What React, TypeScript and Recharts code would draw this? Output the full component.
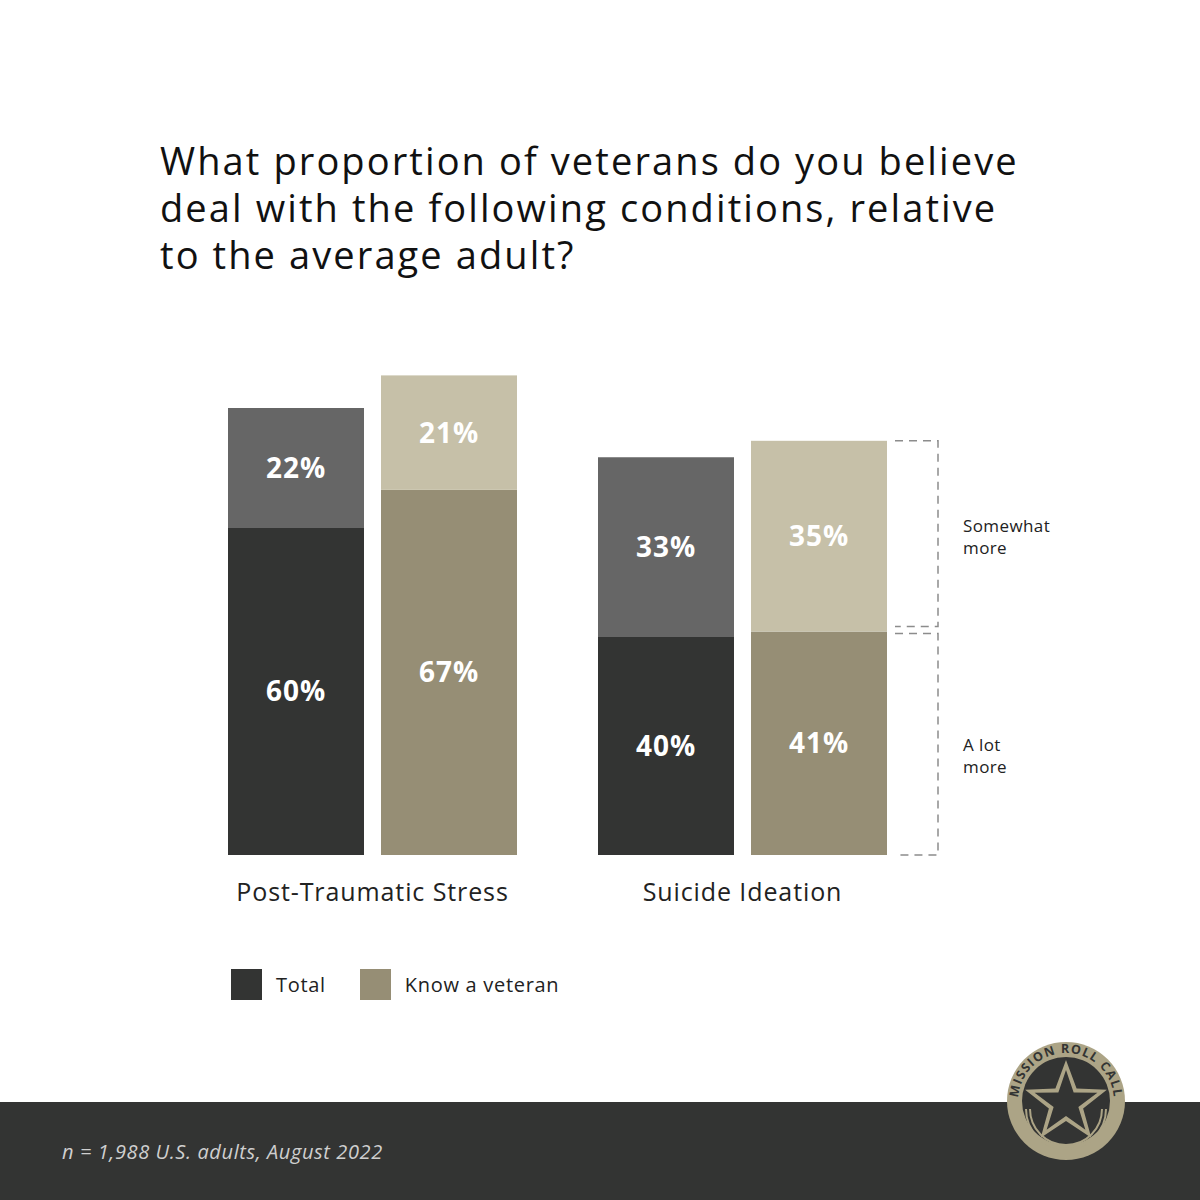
import React from "react";
import { BarChart, Bar, XAxis, YAxis, LabelList } from "recharts";

const categories = ["Post-Traumatic Stress", "Suicide Ideation"];
const totalALot = [60, 40];
const totalSomewhat = [22, 33];
const knowALot = [67, 41];
const knowSomewhat = [21, 35];
const legendItems = ["Total", "Know a veteran"];
const bracketLabels = [["Somewhat", "more"], ["A lot", "more"]];

const FONT = "'Open Sans', 'DejaVu Sans', sans-serif";
const C_TOTAL_A = "#333433";
const C_TOTAL_S = "#666666";
const C_KNOW_A = "#968e75";
const C_KNOW_S = "#c6c0a8";
const DARK = "#333433";
const TAN = "#aca486";

const data = categories.map((c, i) => ({
  name: c,
  totalA: totalALot[i],
  totalS: totalSomewhat[i],
  knowA: knowALot[i],
  knowS: knowSomewhat[i],
}));

const pct = (v: any) => `${v}%`;

const makeShape = (fill: string, which: "top" | "bottom", labelLines: string[]) => (props: any) => {
  const { x, y, width, height, index } = props;
  const xr = x + width;
  const dash = "8 6";
  const stroke = "#8c8c8c";
  let bracket = null;
  if (index === categories.length - 1) {
    const top = which === "top" ? y : y + 2;
    const bottom = which === "top" ? y + height - 5 : y + height;
    const bx = xr + 51;
    const cy = (y + y + height) / 2 + (which === "top" ? 0 : 12);
    const ts = { fontFamily: FONT, fontSize: 17, fill: "#222", letterSpacing: 0.4 } as any;
    bracket = (
      <g>
        <path
          d={`M${xr + 8},${top} L${bx},${top} L${bx},${bottom} L${xr + 8},${bottom}`}
          fill="none"
          stroke={stroke}
          strokeWidth={1.5}
          strokeDasharray={dash}
        />
        <text x={xr + 76} y={cy - 11} dominantBaseline="central" style={ts}>
          {labelLines[0]}
        </text>
        <text x={xr + 76} y={cy + 11} dominantBaseline="central" style={ts}>
          {labelLines[1]}
        </text>
      </g>
    );
  }
  return (
    <g>
      <rect x={x} y={y} width={width} height={height} fill={fill} />
      {bracket}
    </g>
  );
};

const CategoryTick = (props: any) => {
  const { x, y, payload } = props;
  return (
    <text
      x={x}
      y={y + 28}
      textAnchor="middle"
      dominantBaseline="central"
      style={{ fontFamily: FONT, fontSize: 25, fill: "#222", letterSpacing: 0.9 }}
    >
      {payload.value}
    </text>
  );
};

const labelStyle = { fill: "#ffffff", fontSize: 28, fontWeight: 700, fontFamily: FONT, letterSpacing: 1 };

const Logo = () => {
  const cx = 60, cy = 60;
  const starPts = (R: number, r: number) => {
    const pts: string[] = [];
    for (let k = 0; k < 10; k++) {
      const rad = k % 2 === 0 ? R : r;
      const a = -Math.PI / 2 + (k * Math.PI) / 5;
      pts.push(`${cx + rad * Math.cos(a)},${cy + 2 + rad * Math.sin(a)}`);
    }
    return pts.join(" ");
  };
  const R = 48;
  const a0 = (25 * Math.PI) / 180;
  const sx = cx - R * Math.cos(a0);
  const sy = cy + R * Math.sin(a0);
  const ex = cx + R * Math.cos(a0);
  return (
    <svg width={124} height={124} style={{ position: "absolute", left: 1006, top: 1041 }}>
      <defs>
        <path id="logoArc" d={`M${sx},${sy} A${R},${R} 0 1,1 ${ex},${sy}`} />
      </defs>
      <circle cx={cx} cy={cy} r={59} fill={TAN} />
      <circle cx={cx} cy={cy} r={44} fill={DARK} />
      <path d={`M${cx - 36},${cy + 8} A36,36 0 0,0 ${cx + 36},${cy + 8}`} fill="none" stroke={TAN} strokeWidth={2} />
      <path d={`M${cx - 40},${cy + 8} A40,40 0 0,0 ${cx + 40},${cy + 8}`} fill="none" stroke={TAN} strokeWidth={2} />
      <polygon points={starPts(43, 18)} fill={TAN} />
      <polygon points={starPts(33, 13)} fill={DARK} />
      <text style={{ fontFamily: FONT, fontSize: 12.5, fontWeight: 700, fill: DARK, letterSpacing: 1.2 }}>
        <textPath href="#logoArc" startOffset="50%" textAnchor="middle">MISSION ROLL CALL</textPath>
      </text>
    </svg>
  );
};

export default function App() {
  return (
    <div style={{ position: "absolute", left: 0, top: 0, width: 1200, height: 1200, background: "#fff", overflow: "hidden", fontFamily: FONT }}>
      <div style={{ position: "absolute", left: 160, top: 137, fontSize: 38, lineHeight: "47px", fontWeight: 500, color: "#111", letterSpacing: 2.1, whiteSpace: "nowrap" }}>
        <div>What proportion of veterans do you believe</div>
        <div>deal with the following conditions, relative</div>
        <div>to the average adult?</div>
      </div>
      <div style={{ position: "absolute", left: 0, top: 0 }}>
        <BarChart
          width={1200}
          height={960}
          data={data}
          margin={{ top: 310, left: 187.5, right: 272.5, bottom: 45 }}
          barCategoryGap={40.5}
          barGap={17}
        >
          <XAxis dataKey="name" axisLine={false} tickLine={false} height={60} tick={<CategoryTick />} interval={0} />
          <YAxis hide domain={[0, 100]} />
          <Bar dataKey="totalA" stackId="total" fill={C_TOTAL_A} isAnimationActive={false}>
            <LabelList dataKey="totalA" position="center" formatter={pct} style={labelStyle} />
          </Bar>
          <Bar dataKey="totalS" stackId="total" fill={C_TOTAL_S} isAnimationActive={false}>
            <LabelList dataKey="totalS" position="center" formatter={pct} style={labelStyle} />
          </Bar>
          <Bar dataKey="knowA" stackId="know" fill={C_KNOW_A} isAnimationActive={false} shape={makeShape(C_KNOW_A, "bottom", bracketLabels[1])}>
            <LabelList dataKey="knowA" position="center" formatter={pct} style={labelStyle} />
          </Bar>
          <Bar dataKey="knowS" stackId="know" fill={C_KNOW_S} isAnimationActive={false} shape={makeShape(C_KNOW_S, "top", bracketLabels[0])}>
            <LabelList dataKey="knowS" position="center" formatter={pct} style={labelStyle} />
          </Bar>
        </BarChart>
      </div>
      <div style={{ position: "absolute", left: 231, top: 969, display: "flex", alignItems: "center" }}>
        {legendItems.map((item, i) => (
          <div key={item} style={{ display: "flex", alignItems: "center", marginRight: 34 }}>
            <div style={{ width: 31, height: 31, background: i === 0 ? C_TOTAL_A : C_KNOW_A, marginRight: 14 }} />
            <span style={{ fontSize: 20, color: "#222", letterSpacing: 0.7 }}>{item}</span>
          </div>
        ))}
      </div>
      <div style={{ position: "absolute", left: 0, top: 1102, width: 1200, height: 98, background: DARK }}>
        <div style={{ position: "absolute", left: 62, top: 36, fontSize: 20, fontStyle: "italic", color: "#cfcfcf", lineHeight: "28px", letterSpacing: 0.6 }}>
          n = 1,988 U.S. adults, August 2022
        </div>
      </div>
      <Logo />
    </div>
  );
}
